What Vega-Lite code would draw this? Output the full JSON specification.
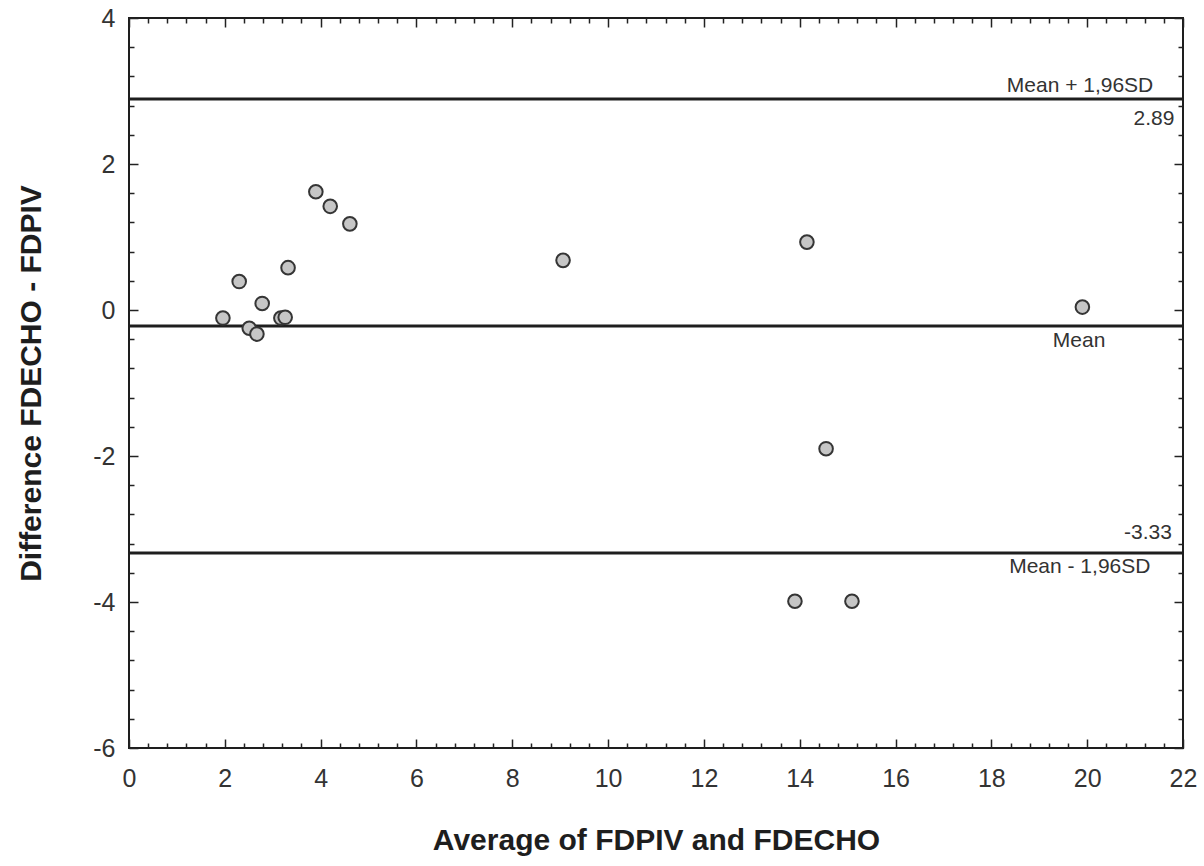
{
  "$schema": "https://vega.github.io/schema/vega-lite/v6.json",
  "autosize": "none",
  "width": 1054,
  "height": 730,
  "padding": {"left": 129, "top": 18, "right": 21, "bottom": 118},
  "background": "white",
  "config": {
    "view": {"stroke": "#1e1e1e", "strokeWidth": 2},
    "font": "Liberation Sans",
    "axis": {"domain": false, "grid": false}
  },
  "datasets": {
    "points": [
      {"avg": 1.96, "diff": -0.11},
      {"avg": 2.30, "diff": 0.39},
      {"avg": 2.51, "diff": -0.25},
      {"avg": 2.67, "diff": -0.33},
      {"avg": 2.78, "diff": 0.09},
      {"avg": 3.17, "diff": -0.11},
      {"avg": 3.26, "diff": -0.10},
      {"avg": 3.32, "diff": 0.58},
      {"avg": 3.90, "diff": 1.62},
      {"avg": 4.20, "diff": 1.42},
      {"avg": 4.61, "diff": 1.18},
      {"avg": 9.06, "diff": 0.68},
      {"avg": 14.15, "diff": 0.93},
      {"avg": 19.90, "diff": 0.04},
      {"avg": 14.55, "diff": -1.90},
      {"avg": 13.90, "diff": -3.99},
      {"avg": 15.09, "diff": -3.99}
    ],
    "lines": [
      {"level": 2.89},
      {"level": -0.22},
      {"level": -3.33}
    ],
    "labels": [
      {"tx": 21.38, "ty": 3.07, "label": "Mean + 1,96SD"},
      {"tx": 21.82, "ty": 2.62, "label": "2.89"},
      {"tx": 20.38, "ty": -0.42, "label": "Mean"},
      {"tx": 21.77, "ty": -3.05, "label": "-3.33"},
      {"tx": 21.32, "ty": -3.52, "label": "Mean - 1,96SD"}
    ]
  },
  "resolve": {"axis": {"x": "independent", "y": "independent"}},
  "layer": [
    {
      "data": {"name": "lines"},
      "mark": {"type": "rule", "stroke": "#1e1e1e", "strokeWidth": 3},
      "encoding": {
        "y": {"field": "level", "type": "quantitative", "scale": {"domain": [-6, 4], "nice": false, "zero": false}, "axis": null}
      }
    },
    {
      "data": {"name": "points"},
      "mark": {"type": "point", "shape": "circle", "filled": true, "fill": "#c6c6c6", "stroke": "#353535", "strokeWidth": 2, "opacity": 1, "size": 185},
      "encoding": {
        "x": {
          "field": "avg", "type": "quantitative",
          "scale": {"domain": [0, 22], "nice": false, "zero": false},
          "axis": {
            "orient": "bottom",
            "values": [0,0.4,0.8,1.2,1.6,2,2.4,2.8,3.2,3.6,4,4.4,4.8,5.2,5.6,6,6.4,6.8,7.2,7.6,8,8.4,8.8,9.2,9.6,10,10.4,10.8,11.2,11.6,12,12.4,12.8,13.2,13.6,14,14.4,14.8,15.2,15.6,16,16.4,16.8,17.2,17.6,18,18.4,18.8,19.2,19.6,20,20.4,20.8,21.2,21.6,22],
            "labelExpr": "abs(datum.value/2 - round(datum.value/2)) < 0.001 ? toString(round(datum.value)) : ''",
            "tickSize": {"condition": {"test": "abs(datum.value/2 - round(datum.value/2)) < 0.001", "value": -9}, "value": -5},
            "tickColor": "#222", "tickWidth": 1.5,
            "labelFontSize": 25, "labelColor": "#333", "labelPadding": 27, "labelFlush": false, "labelOverlap": false,
            "title": "Average of FDPIV and FDECHO",
            "titleFontSize": 30, "titleFontWeight": "bold", "titleColor": "#1e1e1e", "titlePadding": 30
          }
        },
        "y": {
          "field": "diff", "type": "quantitative",
          "scale": {"domain": [-6, 4], "nice": false, "zero": false},
          "axis": {
            "orient": "left",
            "values": [-6,-5.6,-5.2,-4.8,-4.4,-4,-3.6,-3.2,-2.8,-2.4,-2,-1.6,-1.2,-0.8,-0.4,0,0.4,0.8,1.2,1.6,2,2.4,2.8,3.2,3.6,4],
            "labelExpr": "abs(datum.value/2 - round(datum.value/2)) < 0.001 ? toString(round(datum.value)) : ''",
            "tickSize": {"condition": {"test": "abs(datum.value/2 - round(datum.value/2)) < 0.001", "value": -9}, "value": -5},
            "tickColor": "#222", "tickWidth": 1.5,
            "labelFontSize": 25, "labelColor": "#333", "labelPadding": 23, "labelFlush": false, "labelOverlap": false,
            "title": "Difference FDECHO - FDPIV",
            "titleFontSize": 30, "titleFontWeight": "bold", "titleColor": "#1e1e1e", "titlePadding": 46
          }
        }
      }
    },
    {
      "data": {"name": "labels"},
      "mark": {"type": "text", "align": "right", "baseline": "middle", "fontSize": 21, "fill": "#333"},
      "encoding": {
        "text": {"field": "label"},
        "x": {
          "field": "tx", "type": "quantitative",
          "scale": {"domain": [0, 22], "nice": false, "zero": false},
          "axis": {
            "orient": "top",
            "values": [0,0.4,0.8,1.2,1.6,2,2.4,2.8,3.2,3.6,4,4.4,4.8,5.2,5.6,6,6.4,6.8,7.2,7.6,8,8.4,8.8,9.2,9.6,10,10.4,10.8,11.2,11.6,12,12.4,12.8,13.2,13.6,14,14.4,14.8,15.2,15.6,16,16.4,16.8,17.2,17.6,18,18.4,18.8,19.2,19.6,20,20.4,20.8,21.2,21.6,22],
            "labels": false, "title": null,
            "tickSize": {"condition": {"test": "abs(datum.value/2 - round(datum.value/2)) < 0.001", "value": -9}, "value": -5},
            "tickColor": "#222", "tickWidth": 1.5
          }
        },
        "y": {
          "field": "ty", "type": "quantitative",
          "scale": {"domain": [-6, 4], "nice": false, "zero": false},
          "axis": {
            "orient": "right",
            "values": [-6,-5.6,-5.2,-4.8,-4.4,-4,-3.6,-3.2,-2.8,-2.4,-2,-1.6,-1.2,-0.8,-0.4,0,0.4,0.8,1.2,1.6,2,2.4,2.8,3.2,3.6,4],
            "labels": false, "title": null,
            "tickSize": {"condition": {"test": "abs(datum.value/2 - round(datum.value/2)) < 0.001", "value": -9}, "value": -5},
            "tickColor": "#222", "tickWidth": 1.5
          }
        }
      }
    }
  ]
}
